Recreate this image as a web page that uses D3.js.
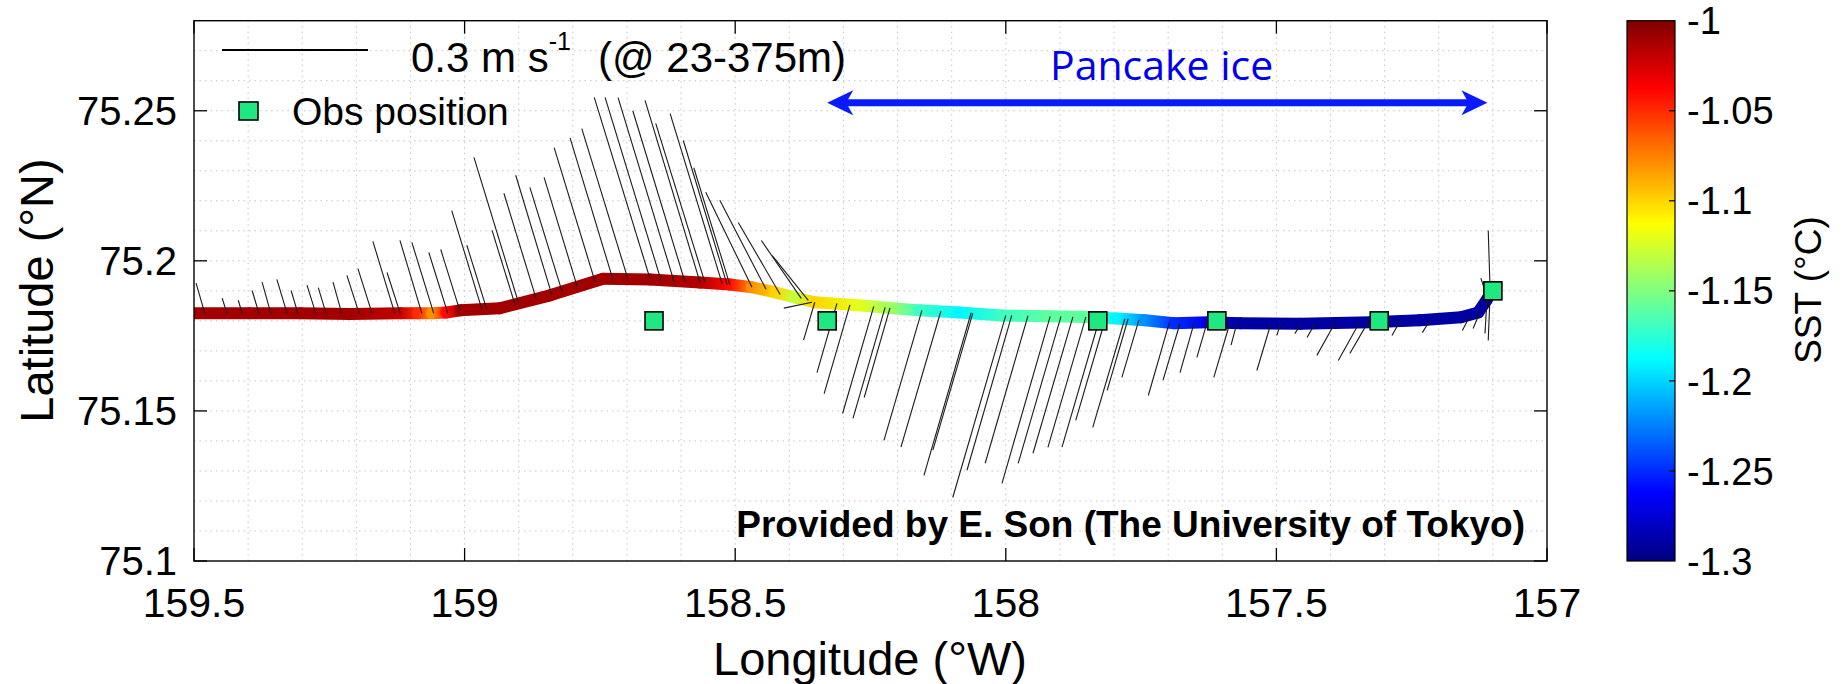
<!DOCTYPE html>
<html><head><meta charset="utf-8">
<script src="https://cdn.jsdelivr.net/npm/d3@7"></script>
<style>
body{margin:0;background:#fff}
svg{display:block}
text{font-family:"Liberation Sans",Arial,Helvetica,sans-serif;fill:#000}
</style></head>
<body><svg id="c" width="1843" height="684"></svg>
<script>
// ---------- data ----------
const xTicks = [159.5, 159, 158.5, 158, 157.5, 157];
const yTicks = [75.1, 75.15, 75.2, 75.25];
const cbTicks = [-1, -1.05, -1.1, -1.15, -1.2, -1.25, -1.3];

// ship track (lon °W, lat °N, SST °C)
const trackLon = [159.500,159.397,159.304,159.212,159.119,159.086,159.060,159.034,159.008,158.935,158.842,158.744,158.657,158.565,158.510,158.469,158.426,158.389,158.353,158.273,158.214,158.159,158.085,158.007,157.918,157.848,157.795,157.743,157.689,157.626,157.567,157.456,157.325,157.235,157.159,157.127,157.112,157.099];
const trackLat = [75.1825,75.1825,75.1825,75.1823,75.1825,75.1825,75.1825,75.1828,75.1835,75.1842,75.1885,75.1940,75.1938,75.1928,75.1921,75.1912,75.1895,75.1878,75.1862,75.1852,75.1843,75.1835,75.1828,75.1818,75.1815,75.1813,75.1808,75.1802,75.1792,75.1795,75.1792,75.1790,75.1795,75.1802,75.1812,75.1828,75.1868,75.1912];
const trackSST = [-1.01,-1.01,-1.01,-1.01,-1.02,-1.05,-1.08,-1.04,-1.01,-1.01,-1.01,-1.01,-1.01,-1.015,-1.04,-1.08,-1.10,-1.13,-1.10,-1.12,-1.14,-1.17,-1.19,-1.17,-1.16,-1.16,-1.19,-1.22,-1.25,-1.27,-1.29,-1.29,-1.29,-1.29,-1.29,-1.29,-1.29,-1.28];

// observation positions
const obsLon = [158.65, 158.33, 157.83, 157.61, 157.31, 157.10];
const obsLat = [75.18, 75.18, 75.18, 75.18, 75.18, 75.19];

// current vectors 23-375 m (base lon, base lat, u east m/s, v north m/s)
const vecLon = [159.480,159.439,159.411,159.380,159.358,159.328,159.308,159.275,159.256,159.227,159.195,159.171,159.129,159.119,159.079,159.057,159.031,159.009,158.968,158.959,158.900,158.907,158.868,158.839,158.820,158.792,158.759,158.726,158.698,158.657,158.637,158.613,158.593,158.565,158.556,158.524,158.515,158.510,158.469,158.443,158.417,158.378,158.365,158.358,
158.353,158.312,158.288,158.244,158.223,158.214,158.155,158.120,158.064,158.061,158.000,157.989,157.959,157.918,157.898,157.876,157.852,157.826,157.815,157.780,157.774,157.754,157.698,157.678,157.652,157.628,157.586,157.573,157.510,157.492,157.455,157.429,157.392,157.347,157.331,157.272,157.216,157.142,157.124,157.111,157.105,157.105,157.115];
const vecLat = [75.1825,75.1825,75.1825,75.1825,75.1825,75.1825,75.1825,75.1825,75.1825,75.1825,75.1825,75.1825,75.1825,75.1825,75.1825,75.1825,75.1825,75.1835,75.1838,75.1838,75.1858,75.1855,75.1875,75.1888,75.1898,75.1915,75.1931,75.1938,75.1938,75.1938,75.1935,75.1931,75.1931,75.1928,75.1928,75.1923,75.1921,75.1921,75.1912,75.1905,75.1888,75.1875,75.1868,75.1862,
75.1862,75.1858,75.1853,75.1848,75.1845,75.1843,75.1835,75.1832,75.1827,75.1825,75.1818,75.1818,75.1817,75.1815,75.1815,75.1813,75.1813,75.1812,75.1812,75.1807,75.1807,75.1803,75.1793,75.1792,75.1793,75.1795,75.1792,75.1792,75.1792,75.1792,75.1790,75.1790,75.1792,75.1793,75.1795,75.1798,75.1803,75.1818,75.1828,75.1868,75.1895,75.1895,75.1902];
const vecU = [-0.018,-0.010,-0.008,-0.014,-0.018,-0.021,-0.014,-0.018,-0.016,-0.018,-0.025,-0.029,-0.045,-0.027,-0.045,-0.045,-0.039,-0.039,-0.062,-0.041,-0.092,-0.047,-0.066,-0.074,-0.066,-0.068,-0.084,-0.088,-0.095,-0.115,-0.115,-0.115,-0.107,-0.113,-0.101,-0.107,-0.090,-0.074,-0.095,-0.095,-0.086,-0.082,-0.074,-0.058,
-0.023,-0.041,-0.053,-0.064,-0.066,-0.053,-0.078,-0.082,-0.097,-0.082,-0.109,-0.092,-0.088,-0.099,-0.088,-0.082,-0.078,-0.078,-0.062,-0.066,-0.043,-0.035,-0.043,-0.035,-0.029,-0.021,-0.033,-0.012,-0.029,-0.008,-0.012,-0.016,-0.037,-0.043,-0.037,-0.016,-0.016,-0.016,-0.014,-0.004,-0.004,-0.004,-0.008];
const vecV = [0.062,0.031,0.027,0.047,0.064,0.070,0.047,0.058,0.053,0.064,0.078,0.092,0.148,0.084,0.150,0.146,0.125,0.125,0.203,0.132,0.300,0.152,0.216,0.245,0.214,0.224,0.275,0.291,0.310,0.374,0.376,0.378,0.351,0.374,0.327,0.350,0.296,0.240,0.195,0.183,0.148,0.119,0.092,-0.012,
-0.078,-0.142,-0.182,-0.220,-0.228,-0.184,-0.267,-0.279,-0.334,-0.281,-0.374,-0.318,-0.303,-0.343,-0.302,-0.280,-0.268,-0.267,-0.212,-0.223,-0.147,-0.118,-0.149,-0.117,-0.102,-0.072,-0.111,-0.045,-0.097,-0.025,-0.020,-0.028,-0.066,-0.077,-0.064,-0.029,-0.026,-0.031,-0.033,-0.068,-0.099,0.127,0.025];

const legendSpeed = 0.3;           // m/s reference vector
const pancakeLon = [158.33, 157.11]; // annotation span
const pancakeLat = 75.2527;

// ---------- layout ----------
const L = 194, R = 1547, T = 20.7, B = 561;
const svg = d3.select("#c");
const x = d3.scaleLinear().domain([159.5, 157]).range([L, R]);
const y = d3.scaleLinear().domain([75.1, 75.28]).range([B, T]);
const sstNorm = d3.scaleLinear().domain([-1.3, -1]).range([0, 1]).clamp(true);
function jet(t){const c=v=>Math.max(0,Math.min(1,v));
  return d3.rgb(255*c(1.5-Math.abs(4*t-3)),255*c(1.5-Math.abs(4*t-2)),255*c(1.5-Math.abs(4*t-1))).formatHex();}
const legendLen = 146;              // px for legendSpeed
const pxPerMs = legendLen / legendSpeed;

const defs = svg.append("defs");
defs.append("clipPath").attr("id","clip").append("rect")
  .attr("x",L).attr("y",T).attr("width",R-L).attr("height",B-T);

// grid (dotted)
const grid = svg.append("g").attr("stroke","#c4c4c4").attr("stroke-width",1).attr("stroke-dasharray","1.5,4");
x.ticks(25).filter(v=>x(v)>L+2 && x(v)<R-2).forEach(v=>{
  grid.append("line").attr("x1",x(v)).attr("x2",x(v)).attr("y1",T).attr("y2",B);});
y.ticks(18).filter(v=>y(v)<B-2 && y(v)>T+2).forEach(v=>{
  grid.append("line").attr("y1",y(v)).attr("y2",y(v)).attr("x1",L).attr("x2",R);});

const plot = svg.append("g").attr("clip-path","url(#clip)");

// track with smooth colour
const trk = d3.range(trackLon.length).map(i=>({lon:trackLon[i],lat:trackLat[i],s:trackSST[i]}));
for(let i=0;i<trk.length-1;i++){
  const a=trk[i], b=trk[i+1];
  const g = defs.append("linearGradient").attr("id","tg"+i).attr("gradientUnits","userSpaceOnUse")
    .attr("x1",x(a.lon)).attr("y1",y(a.lat)).attr("x2",x(b.lon)).attr("y2",y(b.lat));
  g.append("stop").attr("offset",0).attr("stop-color",jet(sstNorm(a.s)));
  g.append("stop").attr("offset",1).attr("stop-color",jet(sstNorm(b.s)));
}
for(let i=0;i<trk.length-1;i++){
  const a=trk[i], b=trk[i+1];
  plot.append("line").attr("x1",x(a.lon)).attr("y1",y(a.lat)).attr("x2",x(b.lon)).attr("y2",y(b.lat))
    .attr("stroke","url(#tg"+i+")").attr("stroke-width",12).attr("stroke-linecap","round");
}

// vectors
const vg = plot.append("g").attr("stroke","#1a1a1a").attr("stroke-width",1.1);
vecLon.forEach((lon,i)=>{
  const x0=x(lon), y0=y(vecLat[i]);
  vg.append("line").attr("x1",x0).attr("y1",y0)
    .attr("x2",x0+vecU[i]*pxPerMs).attr("y2",y0-vecV[i]*pxPerMs);
});

// obs squares
plot.selectAll("rect.obs").data(obsLon).enter().append("rect").attr("class","obs")
  .attr("x",(d)=>x(d)-9).attr("y",(d,i)=>y(obsLat[i])-9).attr("width",18).attr("height",18)
  .attr("fill","#1fe883").attr("stroke","#000").attr("stroke-width",1.6);

// frame and ticks
svg.append("rect").attr("x",L).attr("y",T).attr("width",R-L).attr("height",B-T)
  .attr("fill","none").attr("stroke","#000").attr("stroke-width",1.4);
const tk = svg.append("g").attr("stroke","#000").attr("stroke-width",1.3);
xTicks.forEach(v=>{
  tk.append("line").attr("x1",x(v)).attr("x2",x(v)).attr("y1",B).attr("y2",B-13);
  tk.append("line").attr("x1",x(v)).attr("x2",x(v)).attr("y1",T).attr("y2",T+13);
  svg.append("text").attr("x",x(v)).attr("y",617).attr("text-anchor","middle")
    .attr("font-size",41).text(d3.format("")(v));
});
yTicks.forEach(v=>{
  tk.append("line").attr("y1",y(v)).attr("y2",y(v)).attr("x1",L).attr("x2",L+13);
  tk.append("line").attr("y1",y(v)).attr("y2",y(v)).attr("x1",R).attr("x2",R-13);
  svg.append("text").attr("x",177).attr("y",y(v)).attr("dy","0.358em").attr("text-anchor","end")
    .attr("font-size",40).text(d3.format("")(v));
});

svg.append("text").attr("transform","translate(53,290.5) rotate(-90)").attr("text-anchor","middle")
  .attr("font-size",47).text("Latitude (°N)");
svg.append("text").attr("x",870).attr("y",675).attr("text-anchor","middle")
  .attr("font-size",47).text("Longitude (°W)");

// legend
svg.append("line").attr("x1",222).attr("x2",222+legendLen).attr("y1",50).attr("y2",50)
  .attr("stroke","#000").attr("stroke-width",2);
const lt = svg.append("text").attr("x",411).attr("y",72).attr("font-size",42);
lt.append("tspan").text("0.3 m s");
lt.append("tspan").attr("font-size",25).attr("dy",-22).text("-1");
lt.append("tspan").attr("x",598).attr("dy",22).text("(@ 23-375m)");
svg.append("rect").attr("x",239).attr("y",102).attr("width",19).attr("height",18)
  .attr("fill","#1fe883").attr("stroke","#000").attr("stroke-width",1.6);
svg.append("text").attr("x",292).attr("y",125).attr("font-size",39).text("Obs position");

// Pancake ice annotation
const ax1 = x(pancakeLon[0]), ax2 = x(pancakeLon[1]), ay = y(pancakeLat);
const blue = "#0a1aff";
svg.append("line").attr("x1",ax1+18).attr("x2",ax2-18).attr("y1",ay).attr("y2",ay)
  .attr("stroke",blue).attr("stroke-width",7);
svg.append("path").attr("fill",blue)
  .attr("d",`M${ax2},${ay} L${ax2-26},${ay-12.5} L${ax2-19},${ay} L${ax2-26},${ay+12.5} Z`);
svg.append("path").attr("fill",blue)
  .attr("d",`M${ax1},${ay} L${ax1+26},${ay-12.5} L${ax1+19},${ay} L${ax1+26},${ay+12.5} Z`);
svg.append("text").attr("x",1050).attr("y",80).attr("font-size",41)
  .style("font-family","'Open Sans',sans-serif").style("fill","#0000ee").text("Pancake ice");

svg.append("text").attr("x",1525).attr("y",537).attr("text-anchor","end").attr("font-size",37)
  .attr("font-weight","bold").text("Provided by E. Son (The University of Tokyo)");

// colorbar
const cbX = 1627, cbW = 48;
const cy = d3.scaleLinear().domain([-1.3,-1]).range([B,T]);
const cg = defs.append("linearGradient").attr("id","cbg").attr("x1",0).attr("x2",0).attr("y1",1).attr("y2",0);
d3.range(0,65).forEach(i=>cg.append("stop").attr("offset",i/64).attr("stop-color",jet(i/64)));
svg.append("rect").attr("x",cbX).attr("y",T).attr("width",cbW).attr("height",B-T)
  .attr("fill","url(#cbg)").attr("stroke","#000").attr("stroke-width",1.2);
cbTicks.forEach(v=>{
  if(v>-1.3 && v<-1){
    svg.append("line").attr("x1",cbX+cbW).attr("x2",cbX+cbW-6).attr("y1",cy(v)).attr("y2",cy(v))
      .attr("stroke","#000").attr("stroke-width",1.2);}
  svg.append("text").attr("x",1687).attr("y",cy(v)).attr("dy","0.358em").attr("font-size",38)
    .text(d3.format("")(v).replace("−","-"));
});
svg.append("text").attr("transform","translate(1821,290) rotate(-90)").attr("text-anchor","middle")
  .attr("font-size",37).text("SST (°C)");
</script></body></html>
